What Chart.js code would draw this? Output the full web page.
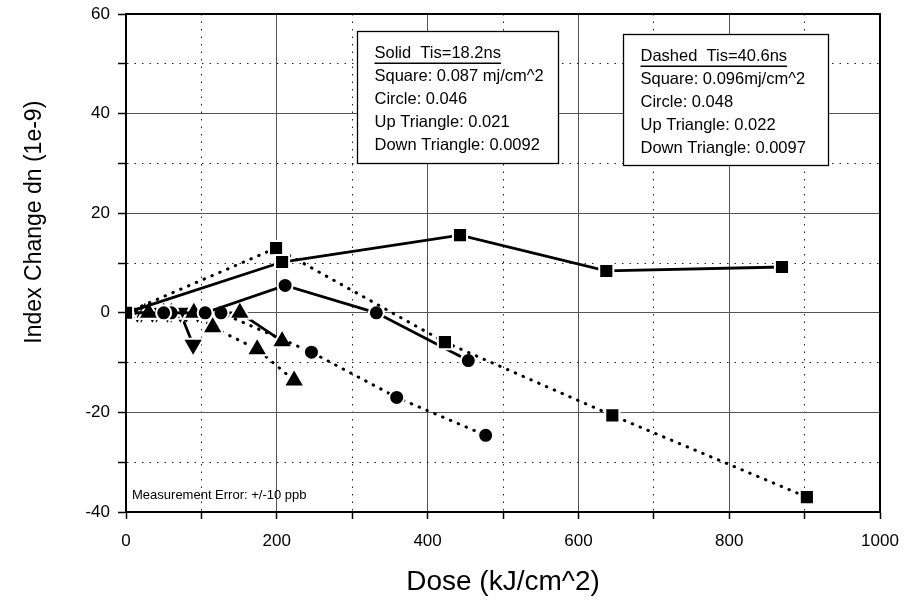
<!DOCTYPE html>
<html>
<head>
<meta charset="utf-8">
<script src="https://cdn.jsdelivr.net/npm/chart.js@4.4.1/dist/chart.umd.min.js"></script>
<style>
  html, body { margin: 0; padding: 0; background: #fff; }
  #wrap { width: 907px; height: 601px; }
</style>
</head>
<body>
<div id="wrap"><canvas id="c" width="907" height="601"></canvas></div>
<script>
// Dose (kJ/cm^2) and index change dn (1e-9)
const solidSquareDose = [0, 207, 443, 637, 870];
const solidSquareDn   = [0, 10.2, 15.6, 8.4, 9.2];
const dashSquareDose  = [0, 199, 423, 645, 903];
const dashSquareDn    = [0, 13.0, -5.9, -20.6, -37.0];

const solidCircleDose = [0, 50, 105, 211, 332, 454];
const solidCircleDn   = [0, 0, 0, 5.5, 0, -9.6];
const dashCircleDose  = [0, 60, 126, 246, 359, 477];
const dashCircleDn    = [0, 0, 0, -7.9, -17.0, -24.6];

const solidUpDose = [0, 30, 60, 90, 151, 207];
const solidUpDn   = [0, 0, 0, 0, 0, -5.7];
const dashUpDose  = [0, 25, 50, 90, 115, 174, 223];
const dashUpDn    = [0, 0, 0, 0, -2.9, -7.3, -13.6];

const solidDownDose = [0, 15, 35, 55, 72, 89];
const solidDownDn   = [0, 0, 0, 0, 0, -6.4];
const dashDownDose  = [0, 20, 40, 60, 80, 95];
const dashDownDn    = [0, 0, 0, 0, 0, 0];

const xTicksMajor = 200;   // labelled every 200, minor grid every 100
const yTicksMajor = 20;    // labelled every 20, minor grid every 10

const xTitle = 'Dose (kJ/cm^2)';
const yTitle = 'Index Change dn (1e-9)';
const solidNote = ['Solid  Tis=18.2ns', 'Square: 0.087 mj/cm^2', 'Circle: 0.046', 'Up Triangle: 0.021', 'Down Triangle: 0.0092'];
const dashNote  = ['Dashed  Tis=40.6ns', 'Square: 0.096mj/cm^2', 'Circle: 0.048', 'Up Triangle: 0.022', 'Down Triangle: 0.0097'];
const errorNote = 'Measurement Error: +/-10 ppb';

const FONT = "'Liberation Sans', Arial, sans-serif";

const pts = (xs, ys) => xs.map((x, i) => ({ x: x, y: ys[i] }));

function series(xs, ys, dotted, style, radius, rotation) {
    return {
        data: pts(xs, ys),
        showLine: true,
        borderColor: '#000',
        borderWidth: dotted ? 3 : 2.8,
        borderDash: dotted ? [0.5, 8] : [],
        borderCapStyle: dotted ? 'round' : 'butt',
        pointStyle: style,
        pointRotation: rotation || 0,
        pointRadius: radius,
        pointBackgroundColor: '#000',
        pointBorderColor: '#fff',
        pointBorderWidth: 2,
        tension: 0
    };
}

// minor grid lines dotted, major solid grey
const gridDash = (major) => (ctx) => (ctx.tick && Math.round(ctx.tick.value) % major !== 0) ? [1.5, 6] : [];
const gridColor = (major) => (ctx) => (ctx.tick && Math.round(ctx.tick.value) % major !== 0) ? '#222' : '#555';

// frame, y title (sits above centre in the original) and text boxes
const notesPlugin = {
    id: 'notes',
    afterDraw(chart) {
        const { ctx, chartArea: a, scales: { x, y } } = chart;
        ctx.save();
        ctx.strokeStyle = '#000';
        ctx.lineWidth = 2;
        ctx.strokeRect(a.left, a.top, a.right - a.left, a.bottom - a.top);

        ctx.save();
        ctx.translate(35, y.getPixelForValue(18.2));
        ctx.rotate(-Math.PI / 2);
        ctx.font = '23px ' + FONT;
        ctx.fillStyle = '#000';
        ctx.textAlign = 'center';
        ctx.textBaseline = 'middle';
        ctx.fillText(yTitle, 0, 0);
        ctx.restore();

        const boxes = [
            { lines: solidNote, x0: 306, x1: 573, y0: 56.5, y1: 30 },
            { lines: dashNote,  x0: 659, x1: 931, y0: 55.9, y1: 29.7 }
        ];
        ctx.font = '16.5px ' + FONT;
        ctx.textBaseline = 'middle';
        ctx.textAlign = 'left';
        boxes.forEach(b => {
            const l = Math.round(x.getPixelForValue(b.x0)) + 0.5;
            const r = Math.round(x.getPixelForValue(b.x1)) + 0.5;
            const t = Math.round(y.getPixelForValue(b.y0)) + 0.5;
            const bt = Math.round(y.getPixelForValue(b.y1)) + 0.5;
            ctx.fillStyle = '#fff';
            ctx.fillRect(l, t, r - l, bt - t);
            ctx.lineWidth = 1.3;
            ctx.strokeStyle = '#000';
            ctx.strokeRect(l, t, r - l, bt - t);
            ctx.fillStyle = '#000';
            b.lines.forEach((s, i) => {
                const ty = t + 22 + i * 23;
                ctx.fillText(s, l + 17, ty);
                if (i === 0) {
                    const w = ctx.measureText(s).width;
                    ctx.fillRect(l + 17, ty + 9, w, 1.5);
                }
            });
        });

        ctx.font = '13px ' + FONT;
        ctx.fillText(errorNote, x.getPixelForValue(8), y.getPixelForValue(-36.7));
        ctx.restore();
    }
};

new Chart(document.getElementById('c'), {
    type: 'scatter',
    data: {
        datasets: [
            series(solidSquareDose, solidSquareDn, false, 'rect', 10),
            series(dashSquareDose, dashSquareDn, true, 'rect', 10),
            series(solidCircleDose, solidCircleDn, false, 'circle', 7.5),
            series(dashCircleDose, dashCircleDn, true, 'circle', 7.5),
            series(solidUpDose, solidUpDn, false, 'triangle', 12),
            series(dashUpDose, dashUpDn, true, 'triangle', 12),
            series(solidDownDose, solidDownDn, false, 'triangle', 12, 180),
            series(dashDownDose, dashDownDn, true, 'triangle', 12, 180)
        ]
    },
    options: {
        responsive: false,
        animation: false,
        layout: { autoPadding: false, padding: { left: 0, right: 27, top: 14, bottom: 0 } },
        plugins: { legend: { display: false }, tooltip: { enabled: false } },
        scales: {
            x: {
                type: 'linear', min: 0, max: 1000,
                ticks: {
                    stepSize: 100, autoSkip: false, maxRotation: 0, padding: 12,
                    color: '#000', font: { family: FONT, size: 17 },
                    callback: v => (v % xTicksMajor === 0 ? v : '')
                },
                grid: { color: gridColor(xTicksMajor), lineWidth: 1, tickLength: 7, tickColor: '#000', tickWidth: 1.5 },
                border: { color: '#000', width: 2, dash: gridDash(xTicksMajor) },
                title: { display: true, text: xTitle, color: '#000', font: { family: FONT, size: 28 }, padding: { top: 0, bottom: 2 } },
                afterFit(s) { s.height = 89; s.paddingLeft = 0; s.paddingRight = 0; }
            },
            y: {
                type: 'linear', min: -40, max: 60,
                ticks: {
                    stepSize: 10, autoSkip: false, padding: 8,
                    color: '#000', font: { family: FONT, size: 17 },
                    callback: v => (v % yTicksMajor === 0 ? v : '')
                },
                grid: { color: gridColor(yTicksMajor), lineWidth: 1, tickLength: 8, tickColor: '#000', tickWidth: 1.5 },
                border: { color: '#000', width: 2, dash: gridDash(yTicksMajor) },
                title: { display: false },
                afterFit(s) { s.width = 126; s.paddingTop = 0; s.paddingBottom = 0; }
            }
        }
    },
    plugins: [notesPlugin]
});
</script>
</body>
</html>
